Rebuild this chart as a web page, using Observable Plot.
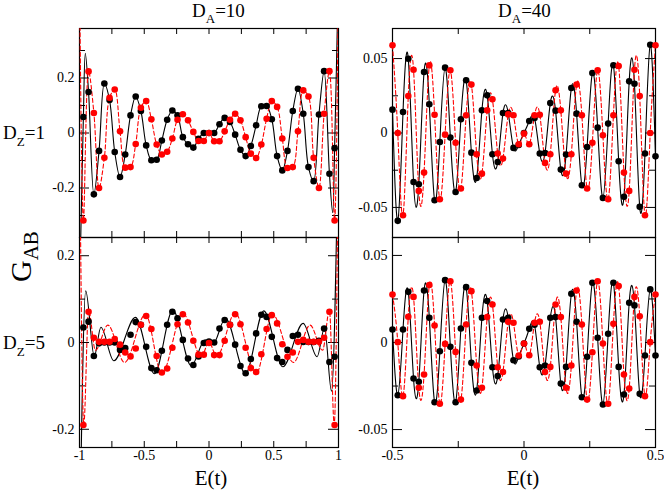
<!DOCTYPE html>
<html><head><meta charset="utf-8">
<script src="https://cdn.jsdelivr.net/npm/d3@7"></script>
<script src="https://cdn.jsdelivr.net/npm/@observablehq/plot@0.6"></script>
<style>
body{margin:0;background:#fff;}
#wrap{position:relative;width:664px;height:491px;overflow:hidden;background:#fff;font-family:"Liberation Serif","Times New Roman",serif;}
#wrap > svg{position:absolute;}
</style></head><body><div id="wrap"></div>
<script>
// ---------- sample positions ----------
const xLeft = [-0.970,-0.930,-0.889,-0.849,-0.808,-0.768,-0.728,-0.687,-0.647,-0.606,-0.566,-0.526,-0.485,-0.445,-0.404,-0.364,-0.323,-0.283,-0.243,-0.202,-0.162,-0.121,-0.081,-0.040,0,0.040,0.081,0.121,0.162,0.202,0.243,0.283,0.323,0.364,0.404,0.445,0.485,0.526,0.566,0.606,0.647,0.687,0.728,0.768,0.808,0.849,0.889,0.930,0.970];
const xRight = [-0.50,-0.48,-0.46,-0.44,-0.42,-0.40,-0.38,-0.36,-0.34,-0.32,-0.30,-0.28,-0.26,-0.24,-0.22,-0.20,-0.18,-0.16,-0.14,-0.12,-0.10,-0.08,-0.06,-0.04,-0.02,0,0.02,0.04,0.06,0.08,0.10,0.12,0.14,0.16,0.18,0.20,0.22,0.24,0.26,0.28,0.30,0.32,0.34,0.36,0.38,0.40,0.42,0.44,0.46,0.48,0.50];

// ---------- D_A=10, D_Z=1 (top left) ----------
const tlBlack = [0.058,0.149,-0.223,-0.065,0.180,0.120,-0.069,-0.160,-0.078,0.064,0.133,0.080,-0.045,-0.099,-0.097,-0.027,0.048,0.082,0.064,-0.015,-0.041,-0.053,-0.021,0,0,0,0.032,0.055,0.040,-0.006,-0.061,-0.084,-0.047,0.028,0.097,0.098,0.050,-0.084,-0.136,-0.065,0.080,0.161,0.070,-0.124,-0.175,0.067,0.225,-0.148,-0.055];
const tlRed = [-0.318,0.224,0.073,-0.200,-0.090,0.128,0.158,0.006,-0.126,-0.124,-0.040,0.092,0.116,0.050,-0.042,-0.078,-0.068,-0.020,0.048,0.068,0.046,0.004,-0.029,-0.029,0,-0.030,-0.030,0.006,0.048,0.070,0.046,-0.015,-0.075,-0.091,-0.042,0.052,0.116,0.095,-0.020,-0.127,-0.124,0.006,0.155,0.133,-0.090,-0.200,0.070,0.225,-0.318];
// extra points of the curves beyond the sampled dots (edge spikes)
const tlBlackEdgeX = [-1.0,-0.955,0.955,1.0];
const tlBlackEdgeY = [-0.6,0.290,-0.290,0.6];
const tlRedEdgeX = [-1.0,1.0];
const tlRedEdgeY = [0.6,0.6];

// ---------- D_A=10, D_Z=5 (bottom left) ----------
const blBlack = [0.0345,0.048,-0.031,-0.002,0,0,0,-0.017,-0.013,0.018,0.047,0.041,-0.010,-0.059,-0.064,-0.019,0.041,0.071,0.056,0.006,-0.037,-0.052,-0.032,-0.001,0.002,0,0.032,0.052,0.041,-0.005,-0.054,-0.071,-0.038,0.021,0.064,0.059,0.013,-0.036,-0.045,-0.017,0.015,0.018,0.001,0.001,0.001,0.004,0.032,-0.045,-0.033];
const blRed = [-0.190,0.071,0.011,0.0015,0.0015,0.0015,0.008,-0.005,-0.023,-0.032,-0.014,0.041,0.061,0.031,-0.031,-0.069,-0.060,-0.012,0.042,0.065,0.046,0.004,-0.028,-0.028,-0.001,-0.029,-0.029,0.004,0.041,0.065,0.042,-0.012,-0.059,-0.068,-0.027,0.031,0.063,0.044,-0.004,-0.033,-0.023,0.0015,0.006,0.0015,0.0015,0.0015,0.011,0.071,-0.190];
// continuous curves (extrema)
const blBlackLineX = [-1.0,-0.952,-0.886,-0.835,-0.735,-0.568,-0.421,-0.279,-0.137,-0.03,0.03,0.127,0.282,0.423,0.570,0.727,0.835,0.892,0.946,1.0];
const blBlackLineY = [-0.5,0.119,-0.032,0.035,-0.042,0.058,-0.072,0.075,-0.054,0.006,-0.004,0.056,-0.072,0.073,-0.056,0.044,-0.033,0.034,-0.112,0.5];
const blRedLineX = [-1.0,-0.967,-0.930,-0.877,-0.781,-0.652,-0.490,-0.364,-0.202,-0.060,0,0.060,0.202,0.364,0.490,0.652,0.781,0.877,0.930,0.967,1.0];
const blRedLineY = [0.5,-0.190,0.074,-0.018,0.040,-0.046,0.065,-0.072,0.068,-0.032,0,-0.032,0.068,-0.072,0.065,-0.046,0.040,-0.018,0.074,-0.190,0.5];

// ---------- D_A=40, D_Z=1 (top right) ----------
const trBlack = [0.0157,-0.059,0.0141,0.0499,-0.0329,-0.0344,0.041,0.0193,-0.0452,-0.006,0.0439,-0.0031,-0.0396,0.0092,0.0354,-0.0132,-0.0302,0.0152,0.0253,-0.0143,-0.0195,0.0134,0.0134,-0.010,-0.008,0,0.0081,0.0101,-0.0138,-0.0134,0.0201,0.015,-0.0246,-0.0145,0.0302,0.013,-0.0351,-0.0094,0.0403,0.0036,-0.0436,0.0063,0.0455,-0.019,-0.0429,0.0347,0.0331,-0.0496,-0.0138,0.0593,-0.0157];
const trRed = [0.0589,0,-0.0553,0.0249,0.0425,-0.0389,-0.0266,0.0454,0.0123,-0.0445,-0.0011,0.0421,-0.0065,-0.0373,0.0119,0.0325,-0.0143,-0.0273,0.0152,0.0226,-0.0138,-0.0172,0.0125,0.0119,-0.0076,-0.0004,-0.0076,0.0119,0.0123,-0.0201,-0.0143,0.0287,0.0152,-0.0273,-0.0143,0.0325,0.0119,-0.0373,-0.0065,0.0421,-0.0015,-0.0445,0.0119,0.045,-0.0266,-0.0389,0.0425,0.0249,-0.0553,0,0.0589];

// ---------- D_A=40, D_Z=5 (bottom right) ----------
const brBlack = [0.0075,-0.0303,0.0075,0.0291,-0.0207,-0.0226,0.0299,0.0142,-0.0343,-0.005,0.0358,-0.0025,-0.0343,0.008,0.0318,-0.0117,-0.0276,0.0142,0.0238,-0.0142,-0.0193,0.0132,0.0142,-0.0102,-0.008,-0.0006,0.0079,0.0102,-0.0142,-0.0132,0.0142,0.0146,-0.0236,-0.014,0.028,0.0119,-0.0314,-0.0082,0.0343,0.0027,-0.0356,0.005,0.0343,-0.014,-0.0299,0.0228,0.0213,-0.0295,-0.0075,0.0305,-0.0075];
const brRed = [0.0276,0.0002,-0.0308,0.0148,0.0262,-0.026,-0.0184,0.033,0.0098,-0.0352,-0.0008,0.0352,-0.0054,-0.0328,0.0103,0.0295,-0.0132,-0.026,0.0146,0.0218,-0.0142,-0.0169,0.0119,0.0113,-0.0075,-0.0006,-0.0073,0.0113,0.0119,-0.0169,-0.014,0.0218,0.0146,-0.026,-0.0132,0.0299,0.0103,-0.0328,-0.0056,0.0352,-0.0006,-0.0352,0.0107,0.0324,-0.0184,-0.0264,0.0262,0.0151,-0.0308,0.0002,0.0276];

// ---------- ticks ----------
const xTicksLeft = [-0.75,-0.5,-0.25,0,0.25,0.5,0.75];
const xLabelsLeft = [-1,-0.5,0,0.5,1];
const xTicksRight = [-0.25,0,0.25];
const xLabelsRight = [-0.5,0,0.5];
const yMajorTop10 = [-0.2,0,0.2];
const yMinorTop10 = [-0.3,-0.1,0.1,0.3];
const yMajorBot10 = [-0.2,0,0.2];
const yMinorBot10 = [-0.1,0.1];
const yMajor40 = [-0.05,0,0.05];
const yMinor40 = [-0.025,0.025];

// ---------- helpers ----------
const zip = (xs, ys) => xs.map((x, i) => ({x, y: ys[i]}));
const fmt = d => String(d);

function panel(o) {
  const fw = o.width - o.mL - o.mR, fh = o.height - o.mT - o.mB;
  const marks = [
    Plot.frame({stroke: "#000", strokeWidth: 1.2}),
    Plot.tickY(o.yMajor, {y: d => d, insetRight: fw - 10, stroke: "#000"}),
    Plot.tickY(o.yMajor, {y: d => d, insetLeft: fw - 10, stroke: "#000"}),
    Plot.tickY(o.yMinor, {y: d => d, insetRight: fw - 6, stroke: "#000"}),
    Plot.tickY(o.yMinor, {y: d => d, insetLeft: fw - 6, stroke: "#000"}),
    Plot.tickX(o.xTicks, {x: d => d, insetBottom: fh - 6, stroke: "#000"}),
    Plot.tickX(o.xTicks, {x: d => d, insetTop: fh - 6, stroke: "#000"}),
    Plot.text(o.yMajor, {y: d => d, text: fmt, frameAnchor: "left", textAnchor: "end", dx: -5, fontSize: 14, fill: "#000"}),
    Plot.line(o.blackLine, {x: "x", y: "y", curve: o.curve, stroke: "#000", strokeWidth: 1.1, clip: true}),
    Plot.line(o.redLine, {x: "x", y: "y", curve: o.curve, stroke: "#ff0000", strokeWidth: 1.1, strokeDasharray: "4,2.5", clip: true}),
    Plot.dot(o.blackDots, {x: "x", y: "y", r: 3.3, fill: "#000", stroke: "none"}),
    Plot.dot(o.redDots, {x: "x", y: "y", r: 3.3, fill: "#ff0000", stroke: "none"})
  ];
  if (o.xLabels) marks.push(Plot.text(o.xLabels, {x: d => d, text: fmt, frameAnchor: "bottom", lineAnchor: "top", dy: 3, fontSize: 14, fill: "#000"}));
  const svg = Plot.plot({
    width: o.width, height: o.height,
    marginLeft: o.mL, marginRight: o.mR, marginTop: o.mT, marginBottom: o.mB,
    x: {domain: o.xDomain, axis: null},
    y: {domain: o.yDomain, axis: null},
    style: {background: "transparent", overflow: "visible", fontFamily: "Liberation Serif, Times New Roman, serif", fontSize: "14px"},
    marks
  });
  svg.style.left = o.left + "px";
  svg.style.top = o.top + "px";
  return svg;
}

const byX = (a, b) => a.x - b.x;
const wrap = document.getElementById("wrap");

wrap.appendChild(panel({
  left: 0, top: 0, width: 345, height: 240, mL: 79, mR: 7, mT: 28, mB: 3,
  xDomain: [-1, 1], yDomain: [-0.38, 0.38], curve: "catmull-rom",
  xTicks: xTicksLeft, xLabels: null, yMajor: yMajorTop10, yMinor: yMinorTop10,
  blackDots: zip(xLeft, tlBlack), redDots: zip(xLeft, tlRed),
  blackLine: zip(xLeft, tlBlack).concat(zip(tlBlackEdgeX, tlBlackEdgeY)).sort(byX),
  redLine: zip(xLeft, tlRed).concat(zip(tlRedEdgeX, tlRedEdgeY)).sort(byX)
}));
wrap.appendChild(panel({
  left: 0, top: 230, width: 345, height: 250, mL: 79, mR: 7, mT: 7, mB: 33,
  xDomain: [-1, 1], yDomain: [-0.242, 0.242], curve: "monotone-x",
  xTicks: xTicksLeft, xLabels: xLabelsLeft, yMajor: yMajorBot10, yMinor: yMinorBot10,
  blackDots: zip(xLeft, blBlack), redDots: zip(xLeft, blRed),
  blackLine: zip(blBlackLineX, blBlackLineY), redLine: zip(blRedLineX, blRedLineY)
}));
wrap.appendChild(panel({
  left: 345, top: 0, width: 319, height: 240, mL: 47, mR: 9, mT: 28, mB: 3,
  xDomain: [-0.5, 0.5], yDomain: [-0.0702, 0.0702], curve: "natural",
  xTicks: xTicksRight, xLabels: null, yMajor: yMajor40, yMinor: yMinor40,
  blackDots: zip(xRight, trBlack), redDots: zip(xRight, trRed),
  blackLine: zip(xRight, trBlack), redLine: zip(xRight, trRed)
}));
wrap.appendChild(panel({
  left: 345, top: 230, width: 319, height: 250, mL: 47, mR: 9, mT: 7, mB: 33,
  xDomain: [-0.5, 0.5], yDomain: [-0.0603, 0.0603], curve: "natural",
  xTicks: xTicksRight, xLabels: xLabelsRight, yMajor: yMajor40, yMinor: yMinor40,
  blackDots: zip(xRight, brBlack), redDots: zip(xRight, brRed),
  blackLine: zip(xRight, brBlack), redLine: zip(xRight, brRed)
}));

// ---------- labels ----------
const ns = "http://www.w3.org/2000/svg";
const lab = document.createElementNS(ns, "svg");
lab.setAttribute("width", 664); lab.setAttribute("height", 491);
lab.style.left = "0px"; lab.style.top = "0px";
lab.setAttribute("font-family", "Liberation Serif, Times New Roman, serif");
lab.innerHTML = `
  <text x="192" y="17" font-size="19">D<tspan font-size="13" dy="6">A</tspan><tspan dy="-6">=10</tspan></text>
  <text x="498" y="17" font-size="19">D<tspan font-size="13" dy="6">A</tspan><tspan dy="-6">=40</tspan></text>
  <text x="3" y="139" font-size="19">D<tspan font-size="13" dy="7">Z</tspan><tspan dy="-7">=1</tspan></text>
  <text x="3" y="349" font-size="19">D<tspan font-size="13" dy="7">Z</tspan><tspan dy="-7">=5</tspan></text>
  <text transform="translate(31,282) rotate(-90)" font-size="30">G<tspan font-size="21" dy="7">AB</tspan></text>
  <text x="211" y="485" font-size="21" text-anchor="middle">E(t)</text>
  <text x="523" y="485" font-size="21" text-anchor="middle">E(t)</text>`;
wrap.appendChild(lab);
</script></body></html>
